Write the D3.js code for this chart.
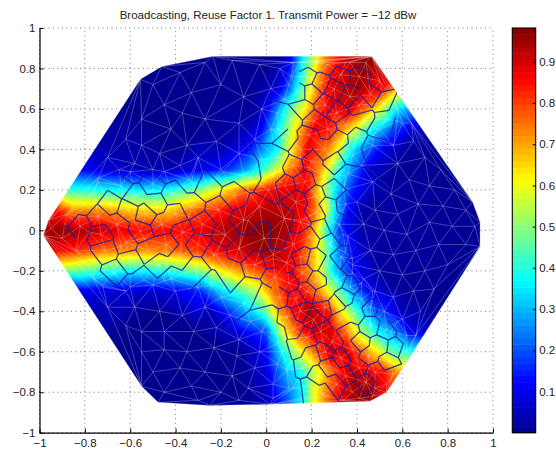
<!DOCTYPE html>
<html><head><meta charset="utf-8">
<script src="https://cdn.jsdelivr.net/npm/d3@7"></script>
<style>html,body{margin:0;padding:0;background:#fff}svg{display:block}text{font-family:"Liberation Sans",Arial,sans-serif;fill:#222}</style>
</head><body><div id="chart"></div>
<script>
const titleText = "Broadcasting, Reuse Factor 1. Transmit Power = \u221212 dBw";
const xTicks = [-1,-0.8,-0.6,-0.4,-0.2,0,0.2,0.4,0.6,0.8,1];
const yTicks = [-1,-0.8,-0.6,-0.4,-0.2,0,0.2,0.4,0.6,0.8,1];
const barTicks = [0.1,0.2,0.3,0.4,0.5,0.6,0.7,0.8,0.9];
const valueDomain = [0,0.982];
const jetStops = ["#00008f","#0000ff","#00ffff","#ffff00","#ff0000","#800000"];
const jetPositions = [0,0.125,0.375,0.625,0.875,1];

const hullX = [-0.983,-0.96,-0.555,-0.46,-0.235,0.465,0.91,0.943,0.943,0.597,0.53,0.457,0.017,-0.25,-0.477,-0.55];
const hullY = [-0.025,0.05,0.747,0.81,0.86,0.86,0.14,0.04,-0.08,-0.69,-0.80,-0.845,-0.86,-0.865,-0.85,-0.77];

// value field: each row is y, then x,value pairs
const fieldRows = [
[0.95,-0.7,0,0,0,.1,.02,.16,.37,.22,.6,.265,.75,.335,.88,.44,.96,.6,.96],
[0.85,-0.7,0,-.2,0,.05,.01,.105,.1,.16,.35,.22,.6,.265,.75,.335,.88,.44,.97,.6,.95],
[0.7,-0.7,0,-.3,0,-.05,.01,.015,.05,.06,.1,.11,.25,.127,.33,.19,.6,.24,.78,.295,.9,.40,.95,.515,.85,.563,.72,.68,.6],
[0.6,-0.8,0,-.3,0,-.05,.02,0,.1,.04,.22,.074,.35,.12,.5,.17,.62,.21,.75,.27,.88,.37,.9,.44,.75,.5,.6,.575,.35,.647,.25,.75,.2],
[0.5,-0.9,0,-.3,0,-.1,.03,-.02,.12,.047,.35,.127,.62,.207,.87,.28,.85,.34,.72,.39,.6,.47,.37,.56,.2,.65,.07,.82,.02],
[0.4,-0.95,0,-.4,0,-.2,.04,-.08,.13,-.02,.25,.05,.37,.105,.6,.18,.87,.27,.74,.32,.6,.37,.37,.44,.23,.515,.1,.6,.02,.88,0],
[0.3,-0.95,.18,-.807,.12,-.71,.07,-.55,.04,-.4,.05,-.292,.1,-.173,.16,-.085,.28,-.014,.42,.06,.6,.105,.75,.17,.87,.236,.72,.27,.6,.33,.37,.4,.2,.457,.07,.575,.01,.95,0],
[0.2,-1,.45,-.88,.42,-.835,.4,-.733,.38,-.586,.36,-.513,.35,-.44,.37,-.29,.5,-.2,.62,-.1,.75,0,.85,.06,.88,.17,.88,.24,.62,.295,.37,.38,.15,.5,.02,1,0],
[0.1,-1.02,.85,-.923,.85,-.85,.72,-.73,.72,-.586,.66,-.44,.65,-.29,.78,-.145,.88,0,.93,.1,.92,.17,.86,.22,.74,.26,.6,.3,.38,.36,.13,.42,.03,1.02,0],
[0,-1.04,.93,-.9,.96,-.8,.94,-.7,.9,-.6,.87,-.5,.86,-.4,.86,-.3,.88,-.2,.93,-.1,.96,0,.98,.1,.93,.18,.8,.22,.65,.27,.4,.32,.18,.4,.05,1.04,0],
[-0.1,-1.02,.9,-.88,.85,-.73,.76,-.59,.72,-.44,.74,-.29,.82,-.15,.9,0,.96,.135,.86,.2,.7,.26,.5,.325,.23,.41,.08,1.02,0],
[-0.2,-1,.55,-.835,.47,-.73,.42,-.59,.37,-.44,.4,-.29,.5,-.15,.68,0,.82,.105,.88,.19,.72,.236,.6,.295,.35,.38,.13,.5,.02,1,0],
[-0.3,-.9,.08,-.79,.1,-.6,.07,-.44,.08,-.29,.16,-.2,.33,-.057,.52,.017,.72,.09,.85,.16,.85,.236,.72,.295,.55,.37,.3,.457,.1,.6,.01,.95,0],
[-0.4,-.9,0,-.5,0,-.25,.04,-.146,.2,-.06,.35,0,.47,.06,.72,.12,.85,.19,.94,.27,.85,.34,.6,.41,.38,.49,.2,.6,.05,.9,0],
[-0.5,-.85,0,-.3,0,-.15,.07,0,.2,.03,.36,.074,.6,.135,.78,.21,.92,.28,.9,.355,.75,.41,.55,.49,.37,.575,.25,.635,.1,.82,.03],
[-0.6,-.8,0,-.1,.01,0,.12,.06,.33,.15,.6,.21,.75,.28,.92,.355,.9,.43,.75,.49,.62,.56,.45,.62,.4,.78,.35],
[-0.7,-.75,0,-.1,.01,0,.08,.08,.28,.15,.38,.19,.5,.24,.62,.295,.78,.37,.92,.44,.9,.515,.85,.575,.72,.72,.6],
[-0.8,-.7,0,-.1,0,0,.05,.105,.25,.165,.38,.21,.6,.27,.75,.33,.88,.4,.96,.457,.96,.52,.88,.68,.8],
[-0.92,-.7,0,0,.03,.1,.18,.16,.36,.21,.6,.27,.78,.33,.9,.4,.96,.5,.95,.68,.8]
];

// light mesh nodes
const meshNodes = [
[-.5,.72],[-.38,.78],[-.27,.83],[-.15,.84],[-.03,.82],[.06,.8],
[-.45,.62],[-.33,.68],[-.2,.72],[-.1,.66],[.02,.7],[.1,.72],
[-.55,.55],[-.42,.5],[-.37,.58],[-.27,.55],[-.12,.53],[-.02,.6],[.05,.58],
[-.62,.45],[-.55,.42],[-.47,.38],[-.35,.42],[-.22,.44],[-.12,.38],[-.05,.45],[.02,.5],
[-.7,.36],[-.65,.3],[-.58,.33],[-.5,.3],[-.38,.32],[-.3,.36],[-.2,.3],[-.1,.27],[-.02,.35],
[.5,.5],[.56,.42],[.65,.44],[.58,.33],[.7,.36],[.77,.3],[.63,.25],[.72,.22],[.83,.2],[.55,.18],[.47,.24],[.42,.32],
[.88,.1],[.78,.12],[.67,.13],[.58,.08],[.48,.1],[.4,.14],[.92,.02],[.82,.02],[.72,.04],[.62,-.02],[.52,0],[.43,.03],[.36,-.03],
[.88,-.07],[.76,-.07],[.66,-.1],[.56,-.12],[.46,-.1],[.38,-.14],[.8,-.17],[.7,-.2],[.6,-.22],[.5,-.2],[.42,-.26],
[.74,-.29],[.65,-.3],[.56,-.33],[.47,-.3],[.68,-.4],[.6,-.44],[.52,-.4],[.44,-.38],[.55,-.5],
[-.72,-.28],[-.62,-.3],[-.5,-.27],[-.4,-.3],[-.3,-.28],[-.2,-.33],[-.1,-.36],
[-.7,-.38],[-.58,-.38],[-.47,-.4],[-.37,-.42],[-.27,-.38],[-.16,-.42],[-.07,-.45],
[-.62,-.47],[-.55,-.5],[-.45,-.5],[-.32,-.5],[-.22,-.48],[-.12,-.54],[-.02,-.5],
[-.55,-.6],[-.45,-.59],[-.35,-.6],[-.23,-.58],[-.13,-.62],[-.03,-.6],[.05,-.56],
[-.5,-.7],[-.38,-.68],[-.27,-.7],[-.15,-.72],[-.05,-.68],[.05,-.66],
[-.45,-.8],[-.33,-.77],[-.2,-.8],[-.08,-.78],[.03,-.76],[.1,-.78],[-.3,-.84],[-.12,-.84],[.03,-.83],
[-.74,.24],[-.5,.2],[-.33,.24],[-.08,.19],[-.63,.16],[-.3,.16],[-.83,.07],[-.59,.06],[-.34,.07],[-.08,.05],
[-.78,-.01],[-.54,-.04],[-.29,-.02],[-.64,-.08],[-.22,-.12],[-.75,-.16],[-.44,-.16],[-.09,-.17],[-.76,-.24],[-.45,-.25],
[.12,.83],[.37,.83],[.21,.75],[.45,.75],[.08,.65],[.25,.66],[.26,.57],[.58,.54],[.64,.53],[.1,.48],[.35,.48],[.47,.47],
[.15,.36],[.38,.37],[.19,.31],[.36,.28],[.04,.21],[.34,.2],[.24,.13],[.15,.05],[.32,.03],[.03,-.12],[.23,-.11],[.35,-.11],
[.26,-.19],[.38,-.21],[.15,-.28],[.39,-.3],[.02,-.44],[.1,-.53],[.47,-.53],[.66,-.52],[.2,-.67],[.45,-.68],[.48,-.78],[.53,-.76],[.27,-.82],[.34,-.84],[.41,-.83],[.47,-.82]
];

// sites of the dark outlined cells along the three arms
const cellSites = [
[-.95,.01],[-.9,-.04],[-.88,.08],[-.84,-.1],[-.82,.02],[-.8,.13],[-.79,-.17],[-.76,.19],[-.74,.07],[-.73,-.02],[-.71,-.1],[-.69,.13],[-.67,-.21],[-.66,.03],[-.64,.22],[-.62,-.06],[-.61,.1],[-.6,-.15],[-.58,.17],[-.555,-.005],[-.54,-.245],[-.53,.08],[-.52,-.1],[-.5,.23],[-.49,.13],[-.475,-.17],[-.46,.03],[-.44,-.07],[-.42,-.24],[-.41,.18],[-.4,.08],[-.38,-.13],[-.37,-.01],[-.34,.25],[-.33,.12],[-.31,-.19],[-.3,-.07],[-.28,.03],[-.26,.21],[-.24,-.27],[-.23,-.12],[-.21,.1],[-.19,.29],[-.18,-.02],[-.16,-.21],[-.14,.17],[-.12,-.09],[-.1,.05],[-.08,.26],[-.07,-.3],[-.05,-.17],[-.03,.12],[-.01,-.04],[.01,.2],
[-.72,-.27],[-.6,-.28],[-.74,.26],[-.6,.29],[-.45,.29],
[.03,.28],[.05,.36],[.08,.22],[.09,.45],[.12,.32],[.13,.14],[.15,.4],[.17,.24],[.05,.5],[.19,.47],[.2,.34],[.22,.17],[.25,.27],[.26,.4],[.29,.2],[.3,.33],[.32,.45],[.35,.27],[.37,.38],[.11,.55],[.16,.6],[.21,.54],[.27,.5],[.31,.58],[.35,.52],[.4,.46],[.43,.54],[.47,.42],[.49,.5],[.53,.55],[.41,.62],[.37,.66],[.26,.62],[.2,.68],[.14,.68],[.11,.76],[.18,.76],[.24,.73],[.3,.7],[.33,.77],[.46,.67],[.52,.63],[.58,.6],[.27,.82],[.35,.83],[.41,.76],[.44,.83],[.22,.83],[.15,.83],[.5,.74],[.6,.53],
[.08,.06],[.15,.04],[.22,.09],[.27,.12],[.05,-.04],[.12,-.07],[.19,-.03],[.24,.01],[.3,.04],[.28,-.07],[.34,-.02],[.35,.13],
[.03,-.14],[.09,-.16],[.15,-.13],[.22,-.15],[.27,-.18],[.33,-.13],[.38,-.17],[.04,-.23],[.1,-.26],[.16,-.21],[.22,-.25],[.31,-.25],[.37,-.28],[.43,-.24],[-.01,-.33],[.06,-.33],[.13,-.34],[.18,-.3],[.25,-.32],[.3,-.37],[.35,-.32],[.42,-.34],[.48,-.3],[.01,-.42],[.09,-.43],[.15,-.4],[.21,-.44],[.26,-.38],[.33,-.44],[.39,-.41],[.46,-.38],[.52,-.4],[.05,-.51],[.12,-.49],[.18,-.53],[.24,-.5],[.29,-.55],[.36,-.5],[.41,-.56],[.46,-.47],[.53,-.49],[.58,-.45],[.62,-.52],[.07,-.6],[.13,-.58],[.2,-.62],[.26,-.6],[.33,-.63],[.38,-.59],[.45,-.62],[.5,-.57],[.57,-.58],[.62,-.6],[.09,-.69],[.16,-.68],[.22,-.72],[.28,-.67],[.35,-.72],[.41,-.68],[.48,-.7],[.54,-.65],[.56,-.71],[.12,-.78],[.19,-.77],[.25,-.81],[.31,-.76],[.38,-.8],[.44,-.75],[.5,-.79]
];

const W=556,H=450;
const x=d3.scaleLinear().domain([-1,1]).range([39.5,493]);
const y=d3.scaleLinear().domain([-1,1]).range([432.7,28]);
const barY=d3.scaleLinear().domain(valueDomain).range([432.7,28]);
const jet=d3.scaleLinear().domain(jetPositions.map(p=>p*valueDomain[1])).range(jetStops).clamp(true);

const svg=d3.select("#chart").append("svg").attr("width",W).attr("height",H);

// grid
const grid=svg.append("g").attr("stroke","#555").attr("stroke-width",0.8).attr("stroke-dasharray","1 3.5");
grid.selectAll(".gx").data(xTicks).join("line").attr("x1",d=>x(d)).attr("x2",d=>x(d)).attr("y1",y(-1)).attr("y2",y(1));
grid.selectAll(".gy").data(yTicks).join("line").attr("y1",d=>y(d)).attr("y2",d=>y(d)).attr("x1",x(-1)).attr("x2",x(1));

// hull clip
const hullPts=hullX.map((d,i)=>[x(d),y(hullY[i])]);
svg.append("clipPath").attr("id","hull").append("polygon").attr("points",hullPts.map(p=>p.join(",")).join(" "));

// field raster: linear shading across each triangle of the value samples
const samples=[];
fieldRows.forEach(r=>{for(let i=1;i<r.length;i+=2)samples.push([x(r[i]),y(r[0]),r[i+1]]);});
const del=d3.Delaunay.from(samples,d=>d[0],d=>d[1]);
const cv=document.createElement("canvas");cv.width=W;cv.height=H;
const ctx=cv.getContext("2d");const img=ctx.createImageData(W,H);
const lut=d3.range(1024).map(i=>d3.rgb(jet(i/1023*valueDomain[1])));
const T=del.triangles;
for(let t=0;t<T.length;t+=3){
  const a=samples[T[t]],b=samples[T[t+1]],c=samples[T[t+2]];
  const den=(b[1]-c[1])*(a[0]-c[0])+(c[0]-b[0])*(a[1]-c[1]);
  if(Math.abs(den)<1e-6)continue;
  const x0=Math.max(0,Math.floor(Math.min(a[0],b[0],c[0]))),x1=Math.min(W-1,Math.ceil(Math.max(a[0],b[0],c[0])));
  const y0=Math.max(0,Math.floor(Math.min(a[1],b[1],c[1]))),y1=Math.min(H-1,Math.ceil(Math.max(a[1],b[1],c[1])));
  for(let py=y0;py<=y1;py++)for(let px=x0;px<=x1;px++){
    const l1=((b[1]-c[1])*(px+.5-c[0])+(c[0]-b[0])*(py+.5-c[1]))/den;
    const l2=((c[1]-a[1])*(px+.5-c[0])+(a[0]-c[0])*(py+.5-c[1]))/den;
    const l3=1-l1-l2;
    if(l1<-1e-3||l2<-1e-3||l3<-1e-3)continue;
    const v=l1*a[2]+l2*b[2]+l3*c[2];
    const col=lut[Math.max(0,Math.min(1023,Math.round(v/valueDomain[1]*1023)))];
    const k=(py*W+px)*4;img.data[k]=col.r;img.data[k+1]=col.g;img.data[k+2]=col.b;img.data[k+3]=255;
  }
}
ctx.putImageData(img,0,0);
const plot=svg.append("g").attr("clip-path","url(#hull)");
plot.append("image").attr("x",0).attr("y",0).attr("width",W).attr("height",H).attr("href",cv.toDataURL());

// light mesh: triangulation of every node
const nodes=meshNodes.concat(cellSites,hullX.map((d,i)=>[d,hullY[i]]));
const mesh=d3.Delaunay.from(nodes,d=>x(d[0]),d=>y(d[1]));
const lightEdges=[];
for(let e=0;e<mesh.halfedges.length;e++){
  const o=mesh.halfedges[e];
  if(o>=0&&o<e)continue;
  const i=mesh.triangles[e],j=mesh.triangles[e%3===2?e-2:e+1];
  lightEdges.push([x(nodes[i][0]),y(nodes[i][1]),x(nodes[j][0]),y(nodes[j][1])]);
}
// dark network: borders between neighbouring sites, a few merged into larger cells
const siteMesh=d3.Delaunay.from(cellSites,d=>x(d[0]),d=>y(d[1]));
const vor=siteMesh.voronoi([0,0,W,H]);
const cc=vor.circumcenters;
const darkEdges=[];
for(let e=0;e<siteMesh.halfedges.length;e++){
  const o=siteMesh.halfedges[e];
  if(o<e)continue;
  const i=siteMesh.triangles[e],j=siteMesh.triangles[e%3===2?e-2:e+1];
  if((i+j)%7===0)continue;
  const sx=x(cellSites[i][0])-x(cellSites[j][0]),sy=y(cellSites[i][1])-y(cellSites[j][1]);
  if(Math.hypot(sx,sy)>42)continue;
  const t1=Math.floor(e/3),t2=Math.floor(o/3);
  const s=[cc[2*t1],cc[2*t1+1],cc[2*t2],cc[2*t2+1]];
  if(Math.hypot(s[0]-s[2],s[1]-s[3])>34)continue;
  darkEdges.push(s);
}
const drawEdges=(list,cls)=>plot.append("g").attr("class",cls).selectAll("line").data(list).join("line")
  .attr("x1",d=>d[0]).attr("y1",d=>d[1]).attr("x2",d=>d[2]).attr("y2",d=>d[3]);
drawEdges(lightEdges,"light").attr("stroke","#fff").attr("stroke-opacity",.33).attr("stroke-width",.8);
drawEdges(darkEdges,"dark").attr("stroke","#1a1fa0").attr("stroke-opacity",.88).attr("stroke-width",1.2);

// axes
const fmt=d3.format(".1~f");
const styleAxis=g=>{g.selectAll("path,line").attr("stroke","#000");g.selectAll("text").attr("font-size",11.5).attr("fill","#222").attr("font-family","Liberation Sans");g.select(".domain").attr("stroke-width",1.2);};
svg.append("g").attr("transform",`translate(0,${y(-1)})`)
  .call(d3.axisBottom(x).tickValues(xTicks).tickFormat(fmt).tickSizeInner(-4).tickSizeOuter(0).tickPadding(6)).call(styleAxis);
svg.append("g").attr("transform",`translate(${x(-1)},0)`)
  .call(d3.axisLeft(y).tickValues(yTicks).tickFormat(fmt).tickSizeInner(-4).tickSizeOuter(0).tickPadding(4)).call(styleAxis);

// colour bar
const barL=512.3,barR=535.7,levels=d3.range(64);
const bar=svg.append("g");
bar.selectAll("rect").data(levels).join("rect").attr("x",barL).attr("width",barR-barL)
  .attr("y",i=>barY((i+1)/64*valueDomain[1])).attr("height",i=>barY(i/64*valueDomain[1])-barY((i+1)/64*valueDomain[1])+.5)
  .attr("fill",i=>jet((i+.5)/64*valueDomain[1]));
bar.append("rect").attr("x",barL).attr("y",barY(valueDomain[1])).attr("width",barR-barL).attr("height",barY(0)-barY(valueDomain[1]))
  .attr("fill","none").attr("stroke","#000").attr("stroke-width",1.1);
svg.append("g").attr("transform",`translate(${barR},0)`)
  .call(d3.axisRight(barY).tickValues(barTicks).tickFormat(fmt).tickSizeInner(-3).tickSizeOuter(0).tickPadding(3.5)).call(styleAxis)
  .select(".domain").remove();

svg.append("text").attr("x",268).attr("y",19).attr("text-anchor","middle").attr("font-size",11.5).attr("fill","#222").text(titleText);
</script></body></html>
